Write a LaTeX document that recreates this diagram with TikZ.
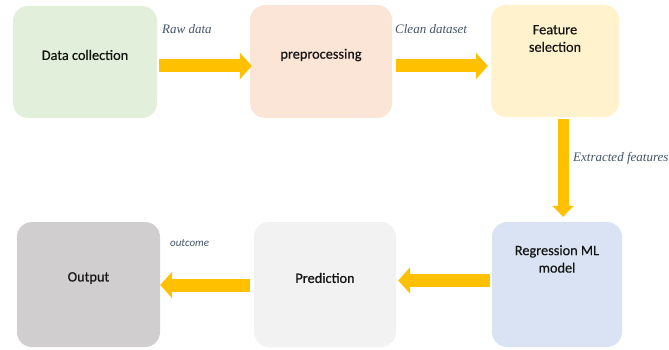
\documentclass[tikz,border=0pt]{standalone}
\usepackage{fontspec}
\setmainfont{Carlito}
\newfontfamily\stagefont{Carlito}[FakeBold=0.4]
\newfontfamily\serifit{Liberation Serif}
\usetikzlibrary{arrows.meta,calc}

\definecolor{boxgreen}{HTML}{E2EFDA}
\definecolor{boxpeach}{HTML}{FBE5D6}
\definecolor{boxyellow}{HTML}{FFF2CC}
\definecolor{boxblue}{HTML}{DAE3F3}
\definecolor{boxlight}{HTML}{F2F2F2}
\definecolor{boxgray}{HTML}{D0CECE}
\definecolor{flowarrow}{HTML}{FFC000}
\definecolor{notetext}{HTML}{44546A}

\tikzset{
  stagebox/.style={rounded corners=15pt, draw=none, inner sep=0pt},
  stagetext/.style={font=\stagefont\fontsize{14.3}{17.5}\selectfont, text=black!92, align=center},
  flow/.style={draw=flowarrow, line width=13pt,
    -{Triangle[width=26pt,length=12pt]}},
  flowv/.style={draw=flowarrow, line width=11pt,
    -{Triangle[width=21pt,length=11pt]}},
  note/.style={font=\serifit\itshape\fontsize{13}{15}\selectfont, text=notetext, anchor=west, inner sep=0pt},
  smallnote/.style={font=\itshape\fontsize{11}{13}\selectfont, text=notetext, anchor=west, inner sep=0pt}
}

\begin{document}
\begin{tikzpicture}[x=1pt, y=-1pt]
  \useasboundingbox (0,0) rectangle (669,350);

  % stages
  \node[stagebox, fill=boxgreen,  minimum width=144pt, minimum height=112pt] (collect) at (85,62) {};
  \node[stagebox, fill=boxpeach,  minimum width=142pt, minimum height=113pt] (prep)    at (321,61.5) {};
  \node[stagebox, fill=boxyellow, minimum width=128pt, minimum height=112pt] (select)  at (555,61) {};
  \node[stagebox, fill=boxblue,   minimum width=130pt, minimum height=125pt] (model)   at (557,284.5) {};
  \node[stagebox, fill=boxlight,  minimum width=142pt, minimum height=125pt] (predict) at (325,284.5) {};
  \node[stagebox, fill=boxgray,   minimum width=143pt, minimum height=125pt] (output)  at (88.5,284.5) {};

  % stage captions
  \node[stagetext] (collectT) at ($(collect.center)+(0,-7)$) {Data collection};
  \node[stagetext] (prepT)    at ($(prep.center)+(0,-6.5)$) {preprocessing};
  \node[stagetext] (selectT)  at ($(select.center)+(0,-22.5)$) {Feature\\selection};
  \node[stagetext] (modelT)   at ($(model.center)+(0,-25.5)$) {Regression ML\\model};
  \node[stagetext] (predictT) at ($(predict.center)+(0,-6.5)$) {Prediction};
  \node[stagetext] (outputT)  at ($(output.center)+(0,-6.5)$) {Output};

  % flow arrows
  \draw[flow]  ($(collect.east)+(2,4)$) -- ($(prep.west)+(2,4.5)$);
  \draw[flow]  ($(prep.east)+(4,4.5)$) -- ($(select.west)+(-3,5)$);
  \draw[flowv] ($(select.south)+(8,2)$) -- ($(model.north)+(6,-5)$);
  \draw[flow]  ($(model.west)+(-2,-4)$) -- ($(predict.east)+(2,-4)$);
  \draw[flow]  ($(predict.west)+(-4,0.5)$) -- ($(output.east)+(0,0.5)$);

  % flow notes
  \node[note] (raw)      at (162,29)  {Raw data};
  \node[note] (clean)    at (395,29)  {Clean dataset};
  \node[note] (features) at (573,158) {Extracted features};
  \node[smallnote] (outcome) at (170,243) {outcome};
\end{tikzpicture}
\end{document}
